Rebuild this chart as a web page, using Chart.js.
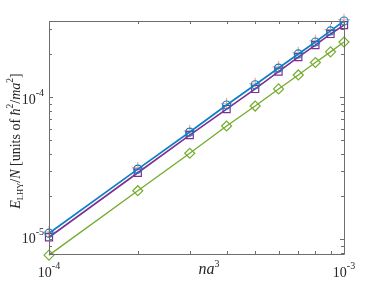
<!DOCTYPE html>
<html>
<head>
<meta charset="utf-8">
<script src="https://cdn.jsdelivr.net/npm/chart.js@4"></script>
<style>
  html, body { margin: 0; background: #fff; }
</style>
</head>
<body>
<canvas id="lhyChart" width="381" height="286"></canvas>
<script>
// ====== Data ======
const naCubed = [1e-4, 2e-4, 3e-4, 4e-4, 5e-4, 6e-4, 7e-4, 8e-4, 9e-4, 1e-3];
const blueVals = [1.10e-5, 3.11e-5, 5.67e-5, 8.79e-5, 1.22e-4, 1.60e-4, 2.01e-4, 2.44e-4, 2.92e-4, 3.43e-4];
const purpleVals = [1.03e-5, 2.93e-5, 5.39e-5, 8.23e-5, 1.14e-4, 1.51e-4, 1.91e-4, 2.32e-4, 2.78e-4, 3.21e-4];
const greenVals = [7.71e-6, 2.19e-5, 4.02e-5, 6.25e-5, 8.64e-5, 1.14e-4, 1.43e-4, 1.75e-4, 2.08e-4, 2.44e-4];
const plusVals = [1.12e-5, 3.17e-5, 5.78e-5, 8.97e-5, 1.24e-4, 1.63e-4, 2.05e-4, 2.49e-4, 2.98e-4, 3.50e-4];

const xMajor = [1e-4, 1e-3];
const xMinor = [2e-4, 3e-4, 4e-4, 5e-4, 6e-4, 7e-4, 8e-4, 9e-4];
const yMajor = [1e-5, 1e-4];
const yMinor = [8e-6, 9e-6, 2e-5, 3e-5, 4e-5, 5e-5, 6e-5, 7e-5, 8e-5, 9e-5, 2e-4, 3e-4];
const xTickLabels = [["10", "-4"], ["10", "-3"]];
const yTickLabels = [["10", "-5"], ["10", "-4"]];

const SERIF = '"Liberation Serif", "DejaVu Serif", serif';
const TEXT = '#262626';
const AXIS = '#6e6e6e';

const pts = vals => naCubed.map((x, i) => ({ x: x, y: vals[i] }));

// ====== Text helper: draw runs of text with sub/superscripts ======
function drawRuns(ctx, runs, x, y, align) {
  let total = 0;
  runs.forEach(r => { ctx.font = r.font; r.w = ctx.measureText(r.t).width; total += r.w; });
  let cx = align === 'right' ? x - total : align === 'center' ? x - total / 2 : x;
  runs.forEach(r => {
    ctx.font = r.font;
    ctx.fillText(r.t, cx, y + (r.dy || 0));
    cx += r.w;
  });
}

// ====== Axes box, inside ticks, labels ======
const axesPlugin = {
  id: 'matlabAxes',
  afterDraw(chart) {
    const { ctx, chartArea: a, scales } = chart;
    const sx = scales.x, sy = scales.y;
    ctx.save();
    ctx.strokeStyle = AXIS;
    ctx.lineWidth = 1;
    ctx.beginPath();
    ctx.rect(a.left + 0.5, a.top + 0.5, a.right - a.left, a.bottom - a.top);
    ctx.stroke();

    ctx.beginPath();
    const xt = (v, len) => {
      const px = Math.round(sx.getPixelForValue(v)) + 0.5;
      ctx.moveTo(px, a.bottom); ctx.lineTo(px, a.bottom - len);
      ctx.moveTo(px, a.top); ctx.lineTo(px, a.top + len);
    };
    const yt = (v, len) => {
      const py = Math.round(sy.getPixelForValue(v)) + 0.5;
      ctx.moveTo(a.left, py); ctx.lineTo(a.left + len, py);
      ctx.moveTo(a.right, py); ctx.lineTo(a.right - len, py);
    };
    xMajor.forEach(v => xt(v, 4));
    xMinor.forEach(v => xt(v, 3));
    yMajor.forEach(v => yt(v, 4));
    yMinor.forEach(v => yt(v, 3));
    ctx.stroke();

    // tick labels
    ctx.fillStyle = TEXT;
    ctx.textBaseline = 'alphabetic';
    xMajor.forEach((v, i) => {
      const px = sx.getPixelForValue(v);
      drawRuns(ctx, [
        { t: xTickLabels[i][0], font: '14px ' + SERIF },
        { t: xTickLabels[i][1], font: '10px ' + SERIF, dy: -8 }
      ], px, a.bottom + 23, 'center');
    });
    const yLabelDy = [4, 7];
    yMajor.forEach((v, i) => {
      const py = sy.getPixelForValue(v);
      drawRuns(ctx, [
        { t: yTickLabels[i][0], font: '14px ' + SERIF },
        { t: yTickLabels[i][1], font: '10px ' + SERIF, dy: -8 }
      ], a.left - 5, py + yLabelDy[i], 'right');
    });

    // x title
    drawRuns(ctx, [
      { t: 'na', font: 'italic 16px ' + SERIF },
      { t: '3', font: '10px ' + SERIF, dy: -7 }
    ], 209, 274, 'center');

    // y title (rotated)
    ctx.translate(20, 141);
    ctx.rotate(-Math.PI / 2);
    drawRuns(ctx, [
      { t: 'E', font: 'italic 14px ' + SERIF },
      { t: 'LHY', font: '8.5px ' + SERIF, dy: 3 },
      { t: '/', font: '14px ' + SERIF },
      { t: 'N', font: 'italic 14px ' + SERIF },
      { t: ' [units of ', font: '14px ' + SERIF },
      { t: 'ħ', font: 'italic 14px ' + SERIF },
      { t: '2', font: '9.5px ' + SERIF, dy: -7 },
      { t: '/', font: '14px ' + SERIF },
      { t: 'ma', font: 'italic 14px ' + SERIF },
      { t: '2', font: '9.5px ' + SERIF, dy: -7 },
      { t: ']', font: '14px ' + SERIF }
    ], 0, 0, 'center');
    ctx.restore();
  }
};

// ====== Chart ======
new Chart(document.getElementById('lhyChart').getContext('2d'), {
  type: 'line',
  data: {
    datasets: [
      {
        data: pts(blueVals),
        borderColor: '#0b7fc8', borderWidth: 1.7,
        pointStyle: 'circle', pointRadius: 4, pointBorderWidth: 1.2,
        pointBackgroundColor: 'rgba(0,0,0,0)', pointBorderColor: '#0b7fc8',
        clip: false
      },
      {
        data: pts(purpleVals),
        borderColor: '#7E2F8E', borderWidth: 1.6,
        pointStyle: 'rect', pointRadius: 5, pointBorderWidth: 1.2,
        pointBackgroundColor: 'rgba(0,0,0,0)', pointBorderColor: '#7E2F8E',
        clip: false
      },
      {
        data: pts(greenVals),
        borderColor: '#77AC30', borderWidth: 1.4,
        pointStyle: 'rectRot', pointRadius: 5, pointBorderWidth: 1.2,
        pointBackgroundColor: 'rgba(0,0,0,0)', pointBorderColor: '#77AC30',
        clip: false
      },
      {
        data: pts(plusVals),
        showLine: false,
        pointStyle: 'cross', pointRadius: 6, pointBorderWidth: 1.2,
        pointBorderColor: '#f4a98a',
        clip: false
      }
    ]
  },
  options: {
    responsive: false,
    animation: false,
    devicePixelRatio: 1,
    layout: { padding: { left: 49, top: 21, right: 37, bottom: 32 } },
    scales: {
      x: { type: 'logarithmic', min: 1e-4, max: 1e-3, display: false },
      y: { type: 'logarithmic', min: 7.85e-6, max: 3.43e-4, display: false }
    },
    plugins: { legend: { display: false }, tooltip: { enabled: false } },
    elements: { line: { tension: 0 } }
  },
  plugins: [axesPlugin]
});
</script>
</body>
</html>
